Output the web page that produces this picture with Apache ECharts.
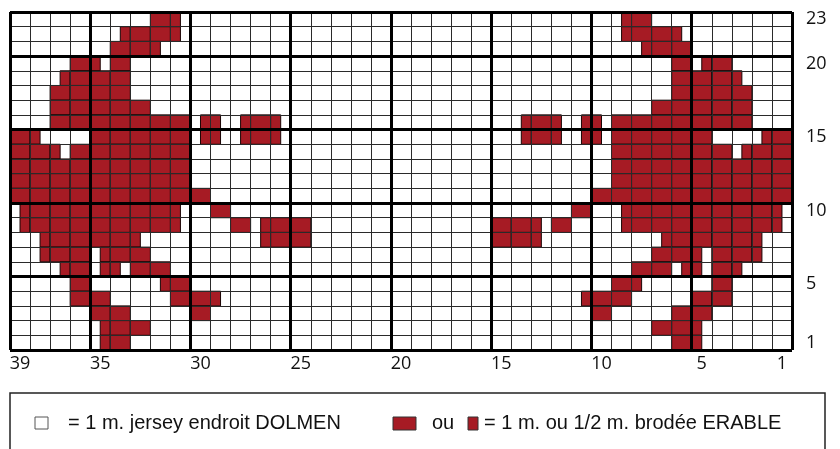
<!DOCTYPE html>
<html>
<head>
<meta charset="utf-8">
<script src="https://cdn.jsdelivr.net/npm/echarts@6/dist/echarts.min.js"></script>
<style>
  html, body { margin: 0; padding: 0; background: #fff; }
  #chart { width: 840px; height: 449px; }
</style>
</head>
<body>
<div id="chart"></div>
<script>
// grille : 39 mailles x 23 rangs, lue de gauche (maille 39) a droite (maille 1)
// '.' vide, '#' maille brodee, '<' demi-maille gauche, '>' demi-maille droite
var pattern = [
    "....|...#<|.....|.....|.....|.....|.>#..|.....", // 23
    "....|.>##<|.....|.....|.....|.....|.>##<|.....", // 22
    "....|.##<.|.....|.....|.....|.....|..>##|.....", // 21
    "...#|<#...|.....|.....|.....|.....|....#|>#...", // 20
    "..>#|##...|.....|.....|.....|.....|....#|##<..", // 19
    "..##|##...|.....|.....|.....|.....|....#|###..", // 18
    "..##|###..|.....|.....|.....|.....|...##|###..", // 17
    "..##|#####|><>#<|.....|.....|.>#<>|<####|###..", // 16
    "#<..|#####|><>#<|.....|.....|.>#<>|<####|#..>#", // 15
    "##<#|#####|.....|.....|.....|.....|.####|##>##", // 14
    "####|#####|.....|.....|.....|.....|.####|#####", // 13
    "####|#####|.....|.....|.....|.....|.####|#####", // 12
    "####|#####|#....|.....|.....|.....|#####|#####", // 11
    ">###|####<|.#...|.....|.....|....#|.>###|####<", // 10
    ">###|####<|..#>#|#....|.....|##<#.|.>###|####<", // 9
    ".>##|##<..|...>#|#....|.....|##<..|...>#|###<.", // 8
    ".>##|>##..|.....|.....|.....|.....|...##|<##<.", // 7
    "..>#|><##.|.....|.....|.....|.....|..##>|<#<..", // 6
    "...#|...>#|.....|.....|.....|.....|.#<..|.#...", // 5
    "...#|#...#|#<...|.....|.....|....>|##...|##...", // 4
    "....|##...|#....|.....|.....|.....|#...#|#....", // 3
    "....|>##..|.....|.....|.....|.....|...##|<....", // 2
    "....|>#...|.....|.....|.....|.....|....#|<...."  // 1
];

var nbCols = 39;
var nbRows = 23;
var colLabels = ['1', '5', '10', '15', '20', '25', '30', '35', '39'];
var rowLabels = ['1', '5', '10', '15', '20', '23'];

var ROUGE = '#a61b24';

// cellules -> [debut, fin, rang] en mailles comptees depuis la droite
var cells = [];
pattern.forEach(function (line, i) {
    var row = nbRows - i;
    var s = line.replace(/\|/g, '');
    for (var p = 0; p < s.length; p++) {
        var k = nbCols - p; // numero de maille
        var c = s.charAt(p);
        if (c == '#') cells.push([k - 1, k, row]);
        else if (c == '<') cells.push([k - 0.5, k, row]);
        else if (c == '>') cells.push([k - 1, k - 0.5, row]);
    }
});

var colCats = [], rowCats = [];
for (var i = 1; i <= nbCols; i++) colCats.push(String(i));
for (var j = 1; j <= nbRows; j++) rowCats.push(String(j));

var chart = echarts.init(document.getElementById('chart'));

var thinLine = { show: true, lineStyle: { color: '#2a2a2a', width: 1 } };
var thickLine = { show: true, lineStyle: { color: '#000', width: 3 } };
var labelFont = { fontFamily: 'Open Sans', fontSize: 18, color: '#111' };
var legendFont = { fontFamily: 'Liberation Sans', fontSize: 20, fill: '#111', verticalAlign: 'middle' };

var option = {
    animation: false,
    backgroundColor: '#fff',
    grid: { left: 10, top: 12, width: 782, height: 338, show: false },
    xAxis: [
        {   // fines
            type: 'value', min: 0, max: nbCols, interval: 1, inverse: true,
            position: 'bottom', z: 3,
            axisLine: { show: false }, axisTick: { show: false }, axisLabel: { show: false },
            splitLine: thinLine
        },
        {   // epaisses tous les 5
            type: 'value', min: 0, max: nbCols, interval: 5, inverse: true,
            position: 'bottom', z: 4,
            axisLine: { show: false }, axisTick: { show: false }, axisLabel: { show: false },
            splitLine: thickLine
        },
        {   // numeros de mailles
            type: 'category', data: colCats, inverse: true, position: 'bottom',
            axisLine: { show: false }, axisTick: { show: false }, splitLine: { show: false },
            axisLabel: Object.assign({
                margin: 5,
                interval: function (idx, val) { return colLabels.indexOf(val) >= 0; }
            }, labelFont)
        }
    ],
    yAxis: [
        {
            type: 'value', min: 0, max: nbRows, interval: 1, position: 'left', z: 3,
            axisLine: { show: false }, axisTick: { show: false }, axisLabel: { show: false },
            splitLine: thinLine
        },
        {
            type: 'value', min: 0, max: nbRows, interval: 5, position: 'left', z: 4,
            axisLine: { show: false }, axisTick: { show: false }, axisLabel: { show: false },
            splitLine: thickLine
        },
        {   // numeros de rangs
            type: 'category', data: rowCats, position: 'right',
            axisLine: { show: false }, axisTick: { show: false }, splitLine: { show: false },
            axisLabel: Object.assign({
                margin: 14,
                interval: function (idx, val) { return rowLabels.indexOf(val) >= 0; }
            }, labelFont)
        }
    ],
    series: [{
        type: 'custom',
        xAxisIndex: 0,
        yAxisIndex: 0,
        z: 1,
        encode: { x: [0, 1], y: 2 },
        data: cells,
        renderItem: function (params, api) {
            var a = api.coord([api.value(0), api.value(2) - 1]);
            var b = api.coord([api.value(1), api.value(2)]);
            return {
                type: 'rect',
                shape: {
                    x: Math.min(a[0], b[0]), y: Math.min(a[1], b[1]),
                    width: Math.abs(b[0] - a[0]), height: Math.abs(b[1] - a[1])
                },
                style: { fill: ROUGE, stroke: '#1a0505', lineWidth: 1 }
            };
        }
    }],
    graphic: [
        { type: 'rect', shape: { x: 10, y: 393, width: 815, height: 80 },
          style: { fill: 'none', stroke: '#222', lineWidth: 1.5 } },
        { type: 'rect', shape: { x: 35, y: 417, width: 13, height: 12 },
          style: { fill: '#fff', stroke: '#555', lineWidth: 1 } },
        { type: 'text', x: 68, y: 423,
          style: Object.assign({ text: '= 1 m. jersey endroit DOLMEN' }, legendFont) },
        { type: 'rect', shape: { x: 393, y: 417, width: 23, height: 13 },
          style: { fill: ROUGE, stroke: '#333', lineWidth: 1 } },
        { type: 'text', x: 432, y: 423,
          style: Object.assign({ text: 'ou' }, legendFont) },
        { type: 'rect', shape: { x: 468, y: 417, width: 10, height: 13 },
          style: { fill: ROUGE, stroke: '#333', lineWidth: 1 } },
        { type: 'text', x: 484, y: 423,
          style: Object.assign({ text: '= 1 m. ou 1/2 m. brodée ERABLE' }, legendFont) }
    ]
};

chart.setOption(option);
</script>
</body>
</html>
